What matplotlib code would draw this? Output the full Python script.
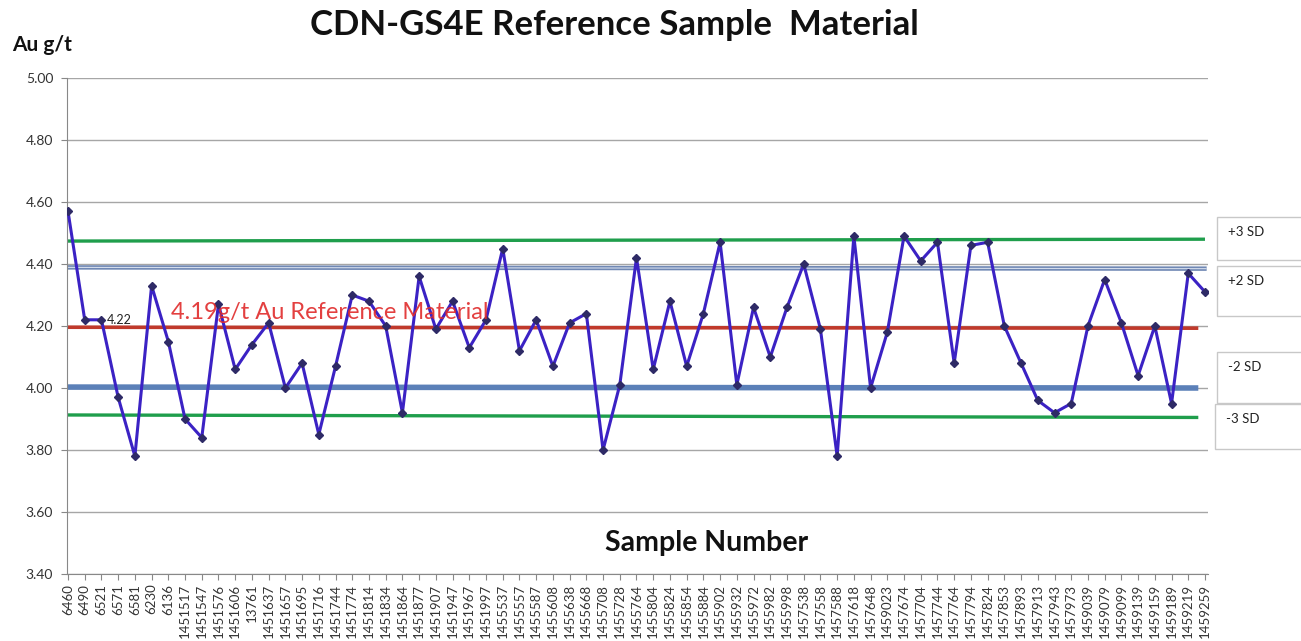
import matplotlib
matplotlib.use("Agg")
import matplotlib.pyplot as plt
from matplotlib.patches import Rectangle

plt.rcParams["font.family"] = ["Lato", "DejaVu Sans"]

# sample ids along the x axis
sample_ids = [
    "6460", "6490", "6521", "6571", "6581", "6230", "6136", "1451517", "1451547",
    "1451576", "1451606", "13761", "1451637", "1451657", "1451695", "1451716",
    "1451744", "1451774", "1451814", "1451834", "1451864", "1451877", "1451907",
    "1451947", "1451967", "1451997", "1455537", "1455557", "1455587", "1455608",
    "1455638", "1455668", "1455708", "1455728", "1455764", "1455804", "1455824",
    "1455854", "1455884", "1455902", "1455932", "1455972", "1455982", "1455998",
    "1457538", "1457558", "1457588", "1457618", "1457648", "1459023", "1457674",
    "1457704", "1457744", "1457764", "1457794", "1457824", "1457853", "1457893",
    "1457913", "1457943", "1457973", "1459039", "1459079", "1459099", "1459139",
    "1459159", "1459189", "1459219", "1459259",
]

# assayed Au values (g/t)
au_values = [
    4.57, 4.22, 4.22, 3.97, 3.78, 4.33, 4.15, 3.90, 3.84, 4.27,
    4.06, 4.14, 4.21, 4.00, 4.08, 3.85, 4.07, 4.30, 4.28, 4.20,
    3.92, 4.36, 4.19, 4.28, 4.13, 4.22, 4.45, 4.12, 4.22, 4.07,
    4.21, 4.24, 3.80, 4.01, 4.42, 4.06, 4.28, 4.07, 4.24, 4.47,
    4.01, 4.26, 4.10, 4.26, 4.40, 4.19, 3.78, 4.49, 4.00, 4.18,
    4.49, 4.41, 4.47, 4.08, 4.46, 4.47, 4.20, 4.08, 3.96, 3.92,
    3.95, 4.20, 4.35, 4.21, 4.04, 4.20, 3.95, 4.37, 4.31,
]

# control lines (hand drawn in the original, so start/end differ a little)
ref_value = [4.196, 4.193]
plus3_sd = [4.474, 4.480]
plus2_sd = [4.389, 4.385]
minus2_sd = [4.003, 4.000]
minus3_sd = [3.913, 3.905]

sd_labels = ["+3 SD", "+2 SD", "-2 SD", "-3 SD"]
# label boxes in pixels: x0, y_top, x1, y_bottom
sd_boxes = [(1217, 217, 1305, 260), (1217, 266, 1305, 316),
            (1217, 352, 1305, 403), (1215, 404, 1305, 449)]

W, H = 1301, 641
fig = plt.figure(figsize=(W / 100, H / 100), dpi=100)
ax = fig.add_axes([67 / W, (H - 574) / H, (1208 - 67) / W, (574 - 78) / H])

x = list(range(len(sample_ids)))
ends = [0, len(sample_ids) - 1]

ax.set_ylim(3.40, 5.00)
ax.set_xlim(-0.06, len(sample_ids) - 1 + 0.18)
ax.set_yticks([3.40 + 0.2 * i for i in range(9)])
ax.yaxis.set_major_formatter(matplotlib.ticker.FormatStrFormatter("%.2f"))
ax.grid(True, axis="y", color="#a6a6a6", linewidth=1.0)
ax.set_axisbelow(True)

ax.plot(ends, plus3_sd, color="#1f9e4c", linewidth=2.4, solid_capstyle="butt")
ax.plot([0, len(sample_ids) - 0.9], plus2_sd, color="#7088b4", linewidth=3.2, solid_capstyle="butt")
ax.plot([0, len(sample_ids) - 0.9], plus2_sd, color="#d3dcec", linewidth=0.8, solid_capstyle="butt")
ax.plot([0, len(sample_ids) - 1.4], ref_value, color="#c0392b", linewidth=2.6, solid_capstyle="butt")
ax.plot([0, len(sample_ids) - 1.4], minus2_sd, color="#5b80b8", linewidth=4.0, solid_capstyle="butt")
ax.plot([0, len(sample_ids) - 1.4], minus3_sd, color="#1f9e4c", linewidth=2.4, solid_capstyle="butt")

ax.plot(x, au_values, color="#3b22c4", linewidth=2.2, marker="D", markersize=4.0,
        markerfacecolor="#2e2a66", markeredgecolor="#2e2a66", zorder=5)

ax.text(2.35, au_values[2], "4.22", fontsize=9, color="#222222", ha="left", va="center", zorder=6)
ax.text(6.15, 4.245, "4.19g/t Au Reference Material", fontsize=17, color="#e02b2b",
        ha="left", va="center", alpha=0.9, zorder=6)
ax.text(38.2, 3.50, "Sample Number", fontsize=20.5, fontweight="bold", color="#111111",
        ha="center", va="center")

ax.set_xticks(x)
ax.set_xticklabels(sample_ids, rotation=90, fontsize=9.5, color="#333333")
ax.tick_params(axis="x", length=4, color="#888888", pad=3)
ax.tick_params(axis="y", length=4, color="#888888", labelsize=10, labelcolor="#333333", pad=6)
for side in ["top", "right"]:
    ax.spines[side].set_visible(False)
ax.spines["left"].set_color("#888888")
ax.spines["bottom"].set_color("#888888")

fig.text(614 / W, 1 - 25 / H, "CDN-GS4E Reference Sample  Material", fontsize=25,
         fontweight="bold", ha="center", va="center", color="#111111")
fig.text(12 / W, 1 - 45 / H, "Au g/t", fontsize=15, fontweight="bold",
         ha="left", va="center", color="#111111")

for label, (x0, yt, x1, yb) in zip(sd_labels, sd_boxes):
    fig.add_artist(Rectangle((x0 / W, 1 - yb / H), (x1 - x0) / W, (yb - yt) / H,
                             transform=fig.transFigure, facecolor="white",
                             edgecolor="#c8c8c8", linewidth=1.0))
    fig.text((x0 + 11) / W, 1 - (yt + 15) / H, label, fontsize=9.5,
             ha="left", va="center", color="#222222")

fig.savefig("out.png", dpi=100)
